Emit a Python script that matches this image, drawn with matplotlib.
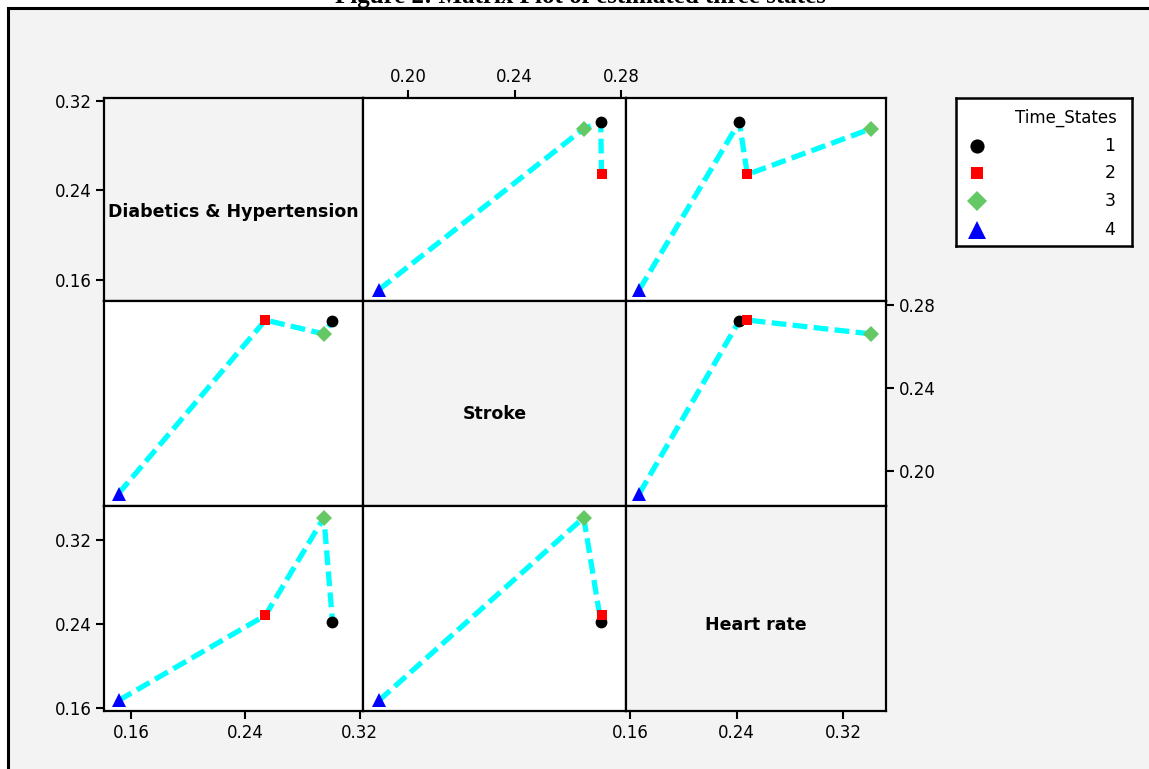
import matplotlib
matplotlib.use("Agg")
import matplotlib.pyplot as plt
from matplotlib.patches import Rectangle
import numpy as np

# ---- data ----
var_names = ["Diabetics & Hypertension", "Stroke", "Heart rate"]
time_states = ["1", "2", "3", "4"]
diab_hyp = [0.301, 0.254, 0.295, 0.151]
stroke = [0.2724, 0.2727, 0.266, 0.189]
heart_rate = [0.242, 0.248, 0.341, 0.167]
tick_D = [0.16, 0.24, 0.32]
tick_S = [0.20, 0.24, 0.28]
tick_H = [0.16, 0.24, 0.32]
title = "Figure 2: Matrix Plot of estimated three states"

values = [diab_hyp, stroke, heart_rate]
ticks = [tick_D, tick_S, tick_H]
limits = [(0.1408, 0.3224), (0.1830, 0.2819), (0.1570, 0.3520)]

markers = ["o", "s", "D", "^"]
msizes = [8.5, 7.4, 8.5, 10.5]
colors = ["#000000", "#ff0000", "#64c864", "#0000ff"]

W, H = 1149, 769
fig = plt.figure(figsize=(W / 100, H / 100), dpi=100)
fig.patch.set_facecolor("white")

# background frame
fig.patches.append(Rectangle((8 / W, -0.1), 1.2, 1 - 8 / H + 0.1, transform=fig.transFigure,
                             facecolor="#f3f3f3", edgecolor="black", linewidth=2.2, zorder=-10))
fig.text(0.505, 1 - 2.5 / H, title, ha="center", va="baseline", fontsize=18,
         fontweight="bold", family="Liberation Serif", zorder=5)

xs = [104, 363, 626, 886]
ys = [98, 301, 506, 711]

axes = [[None] * 3 for _ in range(3)]
for i in range(3):
    for j in range(3):
        left = xs[j] / W
        bottom = 1 - ys[i + 1] / H
        w = (xs[j + 1] - xs[j]) / W
        h = (ys[i + 1] - ys[i]) / H
        ax = fig.add_axes([left, bottom, w, h])
        axes[i][j] = ax
        ax.set_xlim(limits[j])
        ax.set_ylim(limits[i])
        for sp in ax.spines.values():
            sp.set_linewidth(1.6)
        ax.tick_params(which="both", direction="out", length=6, width=1.5,
                       labelsize=12, bottom=False, left=False, top=False, right=False,
                       labelbottom=False, labelleft=False, labeltop=False, labelright=False, pad=3)
        ax.set_xticks(ticks[j])
        ax.set_yticks(ticks[i])
        ax.set_xticklabels([f"{t:.2f}" for t in ticks[j]])
        ax.set_yticklabels([f"{t:.2f}" for t in ticks[i]])
        if i == j:
            ax.set_facecolor("#f3f3f3")
            ypos = {0: 0.44, 1: 0.45, 2: 0.42}[i]
            ax.text(0.5, ypos, var_names[i], transform=ax.transAxes, ha="center", va="center",
                    fontsize=12.5, fontweight="bold", family="DejaVu Sans")
        else:
            ax.set_facecolor("white")
            xv = np.array(values[j])
            yv = np.array(values[i])
            order = np.argsort(xv)
            ax.plot(xv[order], yv[order], color="#00ffff", linewidth=3.8,
                    dashes=(2.8, 1.2), solid_capstyle="butt", dash_capstyle="butt", zorder=2)
            for k in range(4):
                ax.plot(xv[k], yv[k], linestyle="none", marker=markers[k], markersize=msizes[k],
                        color=colors[k], markeredgewidth=0, zorder=3 + k)

# tick placement
axes[0][0].tick_params(left=True, labelleft=True)
axes[2][0].tick_params(left=True, labelleft=True, bottom=True, labelbottom=True)
axes[0][1].tick_params(top=True, labeltop=True)
axes[1][2].tick_params(right=True, labelright=True)
axes[2][2].tick_params(bottom=True, labelbottom=True)

# legend box (manual)
lx0, lx1, ly0, ly1 = 956, 1132, 98, 246
lax = fig.add_axes([lx0 / W, 1 - ly1 / H, (lx1 - lx0) / W, (ly1 - ly0) / H])
lax.set_xlim(0, 1)
lax.set_ylim(0, 1)
lax.set_xticks([])
lax.set_yticks([])
lax.set_facecolor("white")
for sp in lax.spines.values():
    sp.set_linewidth(1.8)
lax.text(0.915, 0.866, "Time_States", ha="right", va="center", fontsize=12, family="DejaVu Sans")
row_y = [0.677, 0.491, 0.304, 0.108]
for k in range(4):
    lax.plot(0.118, row_y[k], linestyle="none", marker=markers[k], markersize=msizes[k] * 1.2,
             color=colors[k], markeredgewidth=0)
    lax.text(0.905, row_y[k], time_states[k], ha="right", va="center", fontsize=12.5,
             family="DejaVu Sans")

fig.savefig("out.png", dpi=100)
